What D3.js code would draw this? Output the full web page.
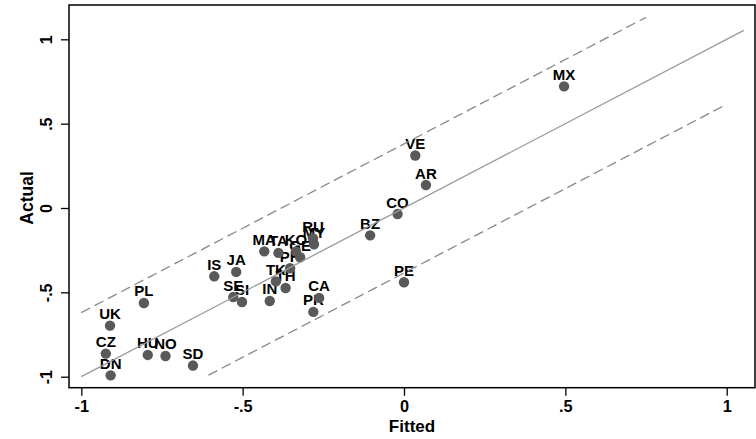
<!DOCTYPE html>
<html>
<head>
<meta charset="utf-8">
<script src="https://cdn.jsdelivr.net/npm/d3@7"></script>
<style>
  body { margin: 0; background: #fff; }
  svg text { font-family: "Liberation Sans", Arial, sans-serif; font-weight: bold; }
</style>
</head>
<body>
<script>
// country codes, fitted and actual values
var countries = ["MX","VE","AR","CO","BZ","PE","RU","MY","KO","GE","MA","TA","PH","TK","TH",
                 "IS","JA","SE","SI","IN","CA","PR","PL","UK","CZ","DN","HU","NO","SD"];
var fitted = [0.496, 0.035, 0.068, -0.020, -0.105, 0.000, -0.282, -0.279, -0.335, -0.322, -0.433, -0.389, -0.353, -0.397, -0.367,
              -0.588, -0.520, -0.529, -0.502, -0.416, -0.263, -0.281, -0.806, -0.911, -0.924, -0.909, -0.794, -0.739, -0.654];
var actual = [0.721, 0.311, 0.136, -0.036, -0.162, -0.440, -0.180, -0.215, -0.257, -0.292, -0.257, -0.266, -0.357, -0.435, -0.474,
              -0.405, -0.379, -0.528, -0.557, -0.551, -0.533, -0.616, -0.563, -0.697, -0.863, -0.992, -0.871, -0.877, -0.934];

// 45 degree line and the two dashed bands (end points)
var fitX = [-1, 1.053], fitY = [-1, 1.053];
var upperX = [-1, 0.75], upperY = [-0.62, 1.13];
var lowerX = [-0.606, 0.988], lowerY = [-0.991, 0.603];

var tickVals = [-1, -0.5, 0, 0.5, 1];
var tickLabels = ["-1", "-.5", "0", ".5", "1"];

var W = 756, H = 439;
var svg = d3.select("body").append("svg")
  .attr("width", W)
  .attr("height", H);

var x = d3.scaleLinear().domain([-1, 1]).range([81.3, 726.7]);
var y = d3.scaleLinear().domain([-1, 1]).range([376.7, 39.3]);

var frame = {left: 69, top: 5, right: 755, bottom: 387.7};

// x axis
var xAxis = svg.append("g")
  .attr("transform", "translate(0," + frame.bottom + ")")
  .call(d3.axisBottom(x).tickValues(tickVals).tickSize(8).tickPadding(2)
    .tickFormat(function(d, i) { return tickLabels[i]; }));
xAxis.select(".domain").remove();
xAxis.selectAll("line").attr("stroke", "#000").attr("stroke-width", 1.3);
xAxis.selectAll("text")
  .attr("fill", "#000")
  .attr("font-size", 16.3)
  .attr("dy", null)
  .attr("y", 24);

// y axis with rotated labels
var yAxis = svg.append("g")
  .attr("transform", "translate(" + frame.left + ",0)")
  .call(d3.axisLeft(y).tickValues(tickVals).tickSize(8)
    .tickFormat(function(d, i) { return tickLabels[i]; }));
yAxis.select(".domain").remove();
yAxis.selectAll("line").attr("stroke", "#000").attr("stroke-width", 1.3);
yAxis.selectAll("text")
  .attr("fill", "#000")
  .attr("font-size", 16)
  .attr("x", null).attr("dy", null)
  .attr("text-anchor", "middle")
  .attr("transform", "translate(-17,0) rotate(-90)");

// frame
svg.append("rect")
  .attr("x", frame.left)
  .attr("y", frame.top)
  .attr("width", frame.right - frame.left)
  .attr("height", frame.bottom - frame.top)
  .attr("fill", "none")
  .attr("stroke", "#000")
  .attr("stroke-width", 1.5);

// axis titles
svg.append("text")
  .attr("x", 412).attr("y", 431.7)
  .attr("text-anchor", "middle")
  .attr("font-size", 17)
  .text("Fitted");
svg.append("text")
  .attr("transform", "translate(33,198) rotate(-90)")
  .attr("text-anchor", "middle")
  .attr("font-size", 17.5)
  .text("Actual");

var pts = countries.map(function(c, i) { return {code: c, fx: fitted[i], ay: actual[i]}; });

// marker labels
svg.append("g").selectAll("text")
  .data(pts)
  .enter().append("text")
  .attr("x", d => x(d.fx))
  .attr("y", d => y(d.ay) - 6.5)
  .attr("text-anchor", "middle")
  .attr("font-size", 15)
  .attr("fill", "#000")
  .text(d => d.code);

// markers
svg.append("g").selectAll("circle")
  .data(pts)
  .enter().append("circle")
  .attr("cx", d => x(d.fx))
  .attr("cy", d => y(d.ay))
  .attr("r", 5.2)
  .attr("fill", "#595959");

var line = d3.line().x(d => x(d[0])).y(d => y(d[1]));

svg.append("path")
  .attr("d", line(d3.zip(fitX, fitY)))
  .attr("fill", "none")
  .attr("stroke", "#9a9a9a")
  .attr("stroke-width", 1.3);

[[upperX, upperY], [lowerX, lowerY]].forEach(function(b) {
  svg.append("path")
    .attr("d", line(d3.zip(b[0], b[1])))
    .attr("fill", "none")
    .attr("stroke", "#888")
    .attr("stroke-width", 1.3)
    .attr("stroke-dasharray", "10,5");
});
</script>
</body>
</html>
